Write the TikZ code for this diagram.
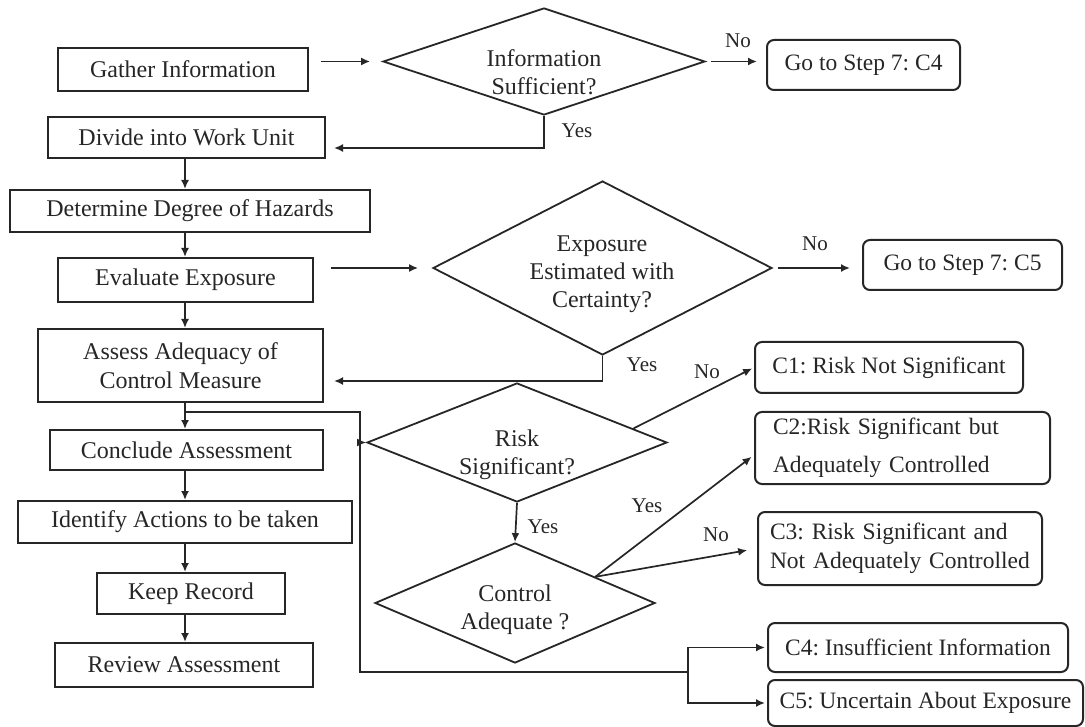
\documentclass[tikz,border=0pt]{standalone}
\usepackage{fontspec}
\setmainfont{Liberation Serif}
\usetikzlibrary{shapes.geometric,arrows.meta,calc}
\frenchspacing

\begin{document}
\begin{tikzpicture}[x=1pt,y=-1pt,
  ink/.style={draw=black!85, text=black!85},
  stepbox/.style={ink, line width=2pt, rectangle, inner sep=0pt, align=center,
                  font=\fontsize{24}{29}\selectfont},
  endbox/.style={ink, line width=2pt, rectangle, rounded corners=7pt, inner sep=0pt,
                 font=\fontsize{23.5}{28}\selectfont},
  decision/.style={ink, line width=1.8pt, diamond, inner sep=0pt},
  qtext/.style={text=black!85, inner sep=0pt, align=center, font=\fontsize{24}{28}\selectfont},
  flow/.style={draw=black!85, line width=1.7pt},
  arr/.style={flow, -{Latex[length=9pt,width=8pt]}},
  tag/.style={text=black!85, inner sep=0pt, font=\fontsize{21}{24}\selectfont},
]
\useasboundingbox (0,0) rectangle (1085,727);

% main sequence of steps
\node[stepbox, minimum width=250pt, minimum height=43pt] (gather)   at (183,69.5)   {Gather Information};
\node[stepbox, minimum width=277pt, minimum height=41pt] (divide)   at (186.5,137.5) {Divide into Work Unit};
\node[stepbox, minimum width=360pt, minimum height=42pt] (hazard)   at (190,211)    {Determine Degree of Hazards};
\node[stepbox, minimum width=255pt, minimum height=44pt] (evaluate) at (185.5,280)  {Evaluate Exposure};
\node[stepbox, minimum width=285pt, minimum height=73pt] (assess)   at (180.5,365.5) {Assess Adequacy of\\Control Measure};
\node[stepbox, minimum width=273pt, minimum height=40pt] (conclude) at (186.5,450)  {Conclude Assessment};
\node[stepbox, minimum width=334pt, minimum height=42pt] (actions)  at (185,522)    {Identify Actions to be taken};
\node[stepbox, minimum width=188pt, minimum height=41pt] (record)   at (191,593.5)  {Keep Record};
\node[stepbox, minimum width=258pt, minimum height=44pt] (review)   at (184,665)    {Review Assessment};

% decisions
\node[decision, minimum width=322pt, minimum height=107pt] (info) at (544,61.5) {};
\node[qtext] (infoT) at (544,72) {Information\\Sufficient?};
\node[decision, minimum width=339pt, minimum height=174pt] (expo) at (602.5,268) {};
\node[qtext] (expoT) at (602,274) {Exposure\\Estimated with\\Certainty?};
\node[decision, minimum width=300pt, minimum height=119pt] (risk) at (517,442.5) {};
\node[qtext] (riskT) at (517,455) {Risk\\Significant?};
\node[decision, minimum width=280pt, minimum height=120pt] (ctrl) at (515,603) {};
\node[qtext] (ctrlT) at (515,610) {Control\\Adequate ?};

% outcomes
\node[endbox, minimum width=193pt, minimum height=50pt] (goFour) at (863.5,65)  {Go to Step 7: C4};
\node[endbox, minimum width=199pt, minimum height=50pt] (goFive) at (962.5,265) {Go to Step 7: C5};
\node[endbox, minimum width=268pt, minimum height=51pt] (cOne)   at (889,367.5) {C1: Risk Not Significant};
\node[endbox, minimum width=295pt, minimum height=72pt, inner xsep=18pt, text width=259pt, align=left,
      font=\fontsize{23.5}{38}\selectfont] (cTwo) at (902.5,448) {C2:Risk Significant but\\Adequately Controlled};
\node[endbox, minimum width=284pt, minimum height=73pt, inner xsep=12pt, text width=260pt, align=left,
      font=\fontsize{23.5}{29}\selectfont] (cThree) at (900,548.5) {C3: Risk Significant and\\Not Adequately Controlled};
\node[endbox, minimum width=300pt, minimum height=49pt] (cFour) at (918,647.5) {C4: Insufficient Information};
\node[endbox, minimum width=315pt, minimum height=46pt] (cFive) at (925.5,703) {C5: Uncertain About Exposure};

% main column arrows
\coordinate (col) at (185,0);
\foreach \a/\b in {divide/hazard, hazard/evaluate, evaluate/assess, assess/conclude,
                   conclude/actions, actions/record, record/review}
  \draw[arr] (\a.south -| col) -- (\b.north -| col);

% information check
\draw[arr, shorten <=12pt, shorten >=12pt] (info.west -| gather.east) -- (info.west);
\draw[arr, shorten <=5pt, shorten >=9pt] (info.east) -- (info.east -| goFour.west);
\node[tag] (noA) at (738,41) {No};
\draw[arr, shorten >=8pt] (info.south) |- ($(divide.east)+(0,10.5)$);
\node[tag] (yesA) at (577,131) {Yes};

% exposure check
\draw[arr, shorten <=17pt, shorten >=14pt] (expo.west -| evaluate.east) -- (expo.west);
\draw[arr, shorten <=5pt, shorten >=12pt] (expo.east) -- (expo.east -| goFive.west);
\node[tag] (noB) at (815,244) {No};
\draw[arr, shorten >=10pt] (expo.south) |- ($(assess.east)+(0,15.5)$);
\node[tag] (yesB) at (642,365) {Yes};

% rail from the assessment to the risk check and to C4 / C5
\coordinate (tap) at (185,412);
\coordinate (railTop) at (360,412);
\coordinate (railEnd) at (360,672);
\coordinate (fork) at (688,672);
\draw[flow] (tap) -- (railTop) -- (railEnd) -- (fork);
\draw[arr, shorten >=2pt] (fork) |- (cFour.west);
\draw[arr, shorten >=2pt] (fork) |- (cFive.west);
\draw[arr] (risk.west -| railTop) -- (risk.west);

% risk check
\coordinate (riskOut) at ($(risk.north)!0.77!(risk.east)$);
\draw[arr, shorten >=2pt] (riskOut) -- (cOne.west);
\node[tag] (noC) at (707,372) {No};
\draw[arr] (risk.south) -- (ctrl.north);
\node[tag] (yesC) at (543,527) {Yes};

% control check
\coordinate (ctrlOut) at ($(ctrl.north)!0.57!(ctrl.east)$);
\draw[arr, shorten >=3pt] (ctrlOut) -- ($(cTwo.west)+(0,7)$);
\node[tag] (yesD) at (647,506) {Yes};
\draw[arr, shorten >=10pt] (ctrlOut) -- (cThree.west);
\node[tag] (noD) at (716,535) {No};
\end{tikzpicture}
\end{document}
